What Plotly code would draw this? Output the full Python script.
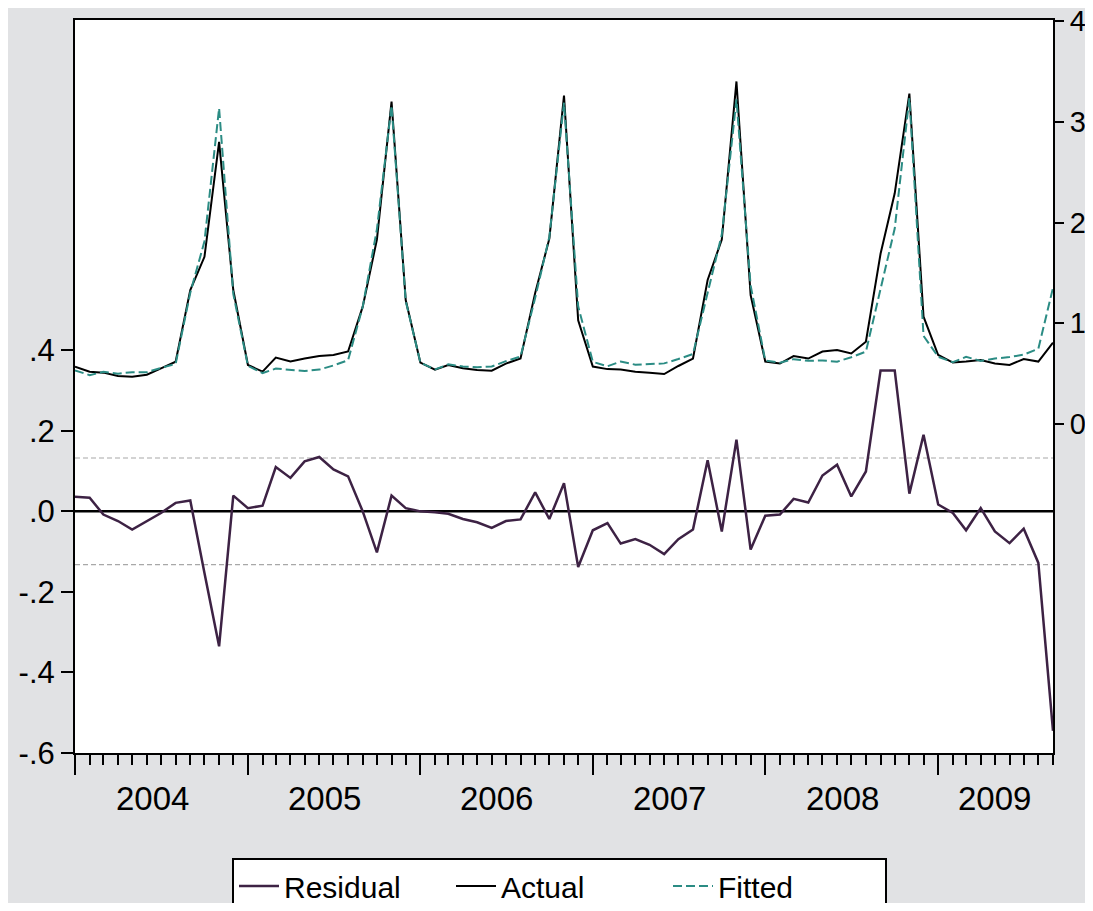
import plotly.graph_objects as go
import pandas as pd

# ---- data (monthly, 2004M01 - 2009M09) ----
months = pd.date_range("2004-01-01", periods=69, freq="MS")

actual = [0.569, 0.519, 0.510, 0.476, 0.470, 0.490, 0.553, 0.618, 1.330, 1.660, 2.800, 1.330,
          0.586, 0.520, 0.660, 0.620, 0.650, 0.675, 0.685, 0.720, 1.165, 1.830, 3.200, 1.230,
          0.610, 0.540, 0.586, 0.553, 0.536, 0.530, 0.600, 0.650, 1.300, 1.840, 3.260, 1.030,
          0.570, 0.545, 0.540, 0.520, 0.510, 0.496, 0.576, 0.650, 1.430, 1.830, 3.400, 1.280,
          0.620, 0.600, 0.675, 0.650, 0.720, 0.735, 0.700, 0.817, 1.690, 2.290, 3.280, 1.065,
          0.685, 0.610, 0.620, 0.635, 0.600, 0.586, 0.645, 0.620, 0.807]

fitted = [0.533, 0.485, 0.518, 0.500, 0.515, 0.514, 0.557, 0.597, 1.303, 1.813, 3.135, 1.291,
          0.578, 0.506, 0.550, 0.537, 0.526, 0.540, 0.581, 0.633, 1.165, 1.932, 3.161, 1.222,
          0.610, 0.542, 0.592, 0.572, 0.563, 0.571, 0.624, 0.670, 1.253, 1.859, 3.190, 1.168,
          0.617, 0.574, 0.620, 0.589, 0.593, 0.602, 0.645, 0.695, 1.303, 1.880, 3.222, 1.375,
          0.631, 0.608, 0.644, 0.628, 0.631, 0.619, 0.663, 0.718, 1.340, 1.940, 3.236, 0.875,
          0.668, 0.614, 0.667, 0.627, 0.650, 0.665, 0.688, 0.748, 1.352]

residual = [0.036, 0.034, -0.008, -0.024, -0.045, -0.024, -0.004, 0.021, 0.027, -0.153, -0.335, 0.039,
            0.008, 0.014, 0.110, 0.083, 0.124, 0.135, 0.104, 0.087, 0.000, -0.102, 0.039, 0.008,
            0.000, -0.002, -0.006, -0.019, -0.027, -0.041, -0.024, -0.020, 0.047, -0.019, 0.070, -0.138,
            -0.047, -0.029, -0.080, -0.069, -0.083, -0.106, -0.069, -0.045, 0.127, -0.050, 0.178, -0.095,
            -0.011, -0.008, 0.031, 0.022, 0.089, 0.116, 0.037, 0.099, 0.350, 0.350, 0.044, 0.190,
            0.017, -0.004, -0.047, 0.008, -0.050, -0.079, -0.043, -0.128, -0.545]

se_band = 0.1325

year_starts = ["2004-01-01", "2005-01-01", "2006-01-01", "2007-01-01", "2008-01-01", "2009-01-01"]
year_label_pos = ["2004-06-12", "2005-06-12", "2006-06-12", "2007-06-12", "2008-06-12", "2009-05-01"]
year_labels = ["2004", "2005", "2006", "2007", "2008", "2009"]

left_ticks = [-0.6, -0.4, -0.2, 0.0, 0.2, 0.4]
left_text = ["-.6", "-.4", "-.2", ".0", ".2", ".4"]
right_ticks = [0, 1, 2, 3, 4]
right_text = ["0", "1", "2", "3", "4"]

FONT = "Liberation Sans, Arial, sans-serif"
x_range = [months[0].strftime("%Y-%m-%d"), months[-1].strftime("%Y-%m-%d")]

fig = go.Figure()
fig.add_trace(go.Scatter(x=months, y=residual, name="Residual", mode="lines",
                         line=dict(color="#3d2244", width=2.5), xaxis="x", yaxis="y"))
fig.add_trace(go.Scatter(x=months, y=actual, name="Actual", mode="lines",
                         line=dict(color="#000000", width=2), xaxis="x", yaxis="y2"))
fig.add_trace(go.Scatter(x=months, y=fitted, name="Fitted", mode="lines",
                         line=dict(color="#2b8c84", width=2, dash="9px,4px"), xaxis="x", yaxis="y2"))

shapes = [
    dict(type="line", xref="paper", x0=0, x1=1, yref="y", y0=0, y1=0,
         line=dict(color="black", width=2.5), layer="below"),
    dict(type="line", xref="paper", x0=0, x1=1, yref="y", y0=se_band, y1=se_band,
         line=dict(color="#a8a8a8", width=1.2, dash="5px,3px"), layer="below"),
    dict(type="line", xref="paper", x0=0, x1=1, yref="y", y0=-se_band, y1=-se_band,
         line=dict(color="#a8a8a8", width=1.2, dash="5px,3px"), layer="below"),
]

annotations = [
    dict(x=xp, y=-0.0614, xref="x", yref="paper", text=lab, showarrow=False,
         xanchor="center", yanchor="middle", font=dict(size=33, family=FONT, color="black"))
    for xp, lab in zip(year_label_pos, year_labels)
]

fig.update_layout(
    width=1085, height=895,
    margin=dict(l=67, r=40, t=12, b=150, autoexpand=False),
    paper_bgcolor="#e1e2e4",
    plot_bgcolor="white",
    font=dict(family=FONT, color="black", size=30),
    showlegend=True,
    legend=dict(orientation="h", x=0.4954, xanchor="center", y=-0.1432, yanchor="top",
                bgcolor="white", bordercolor="black", borderwidth=2,
                font=dict(size=30), itemwidth=40, entrywidth=162),
    xaxis=dict(type="date", range=x_range, tickmode="array", tickvals=year_starts,
               showticklabels=False, ticks="outside", ticklen=20, tickwidth=2, tickcolor="black",
               minor=dict(ticks="outside", ticklen=10, tickwidth=1.5, tickcolor="black",
                          dtick="M1", tick0="2004-01-01", showgrid=False),
               showline=True, linecolor="black", linewidth=2, mirror=True,
               showgrid=False, zeroline=False),
    yaxis=dict(range=[-0.6, 1.22], tickmode="array", tickvals=left_ticks, ticktext=left_text,
               ticks="outside", ticklen=12, tickwidth=1.5, tickcolor="black",
               tickfont=dict(size=31), ticklabeloverflow="allow",
               showline=True, linecolor="black", linewidth=2, showgrid=False, zeroline=False),
    yaxis2=dict(range=[-3.265, 4.01], overlaying="y", side="right", anchor="x",
                tickmode="array", tickvals=right_ticks, ticktext=right_text,
                ticks="outside", ticklen=9, tickwidth=1.5, tickcolor="black",
                tickfont=dict(size=29), ticklabeloverflow="allow",
                showline=True, linecolor="black", linewidth=2, showgrid=False, zeroline=False),
    shapes=shapes,
    annotations=annotations,
)

fig.write_html("out.html")
